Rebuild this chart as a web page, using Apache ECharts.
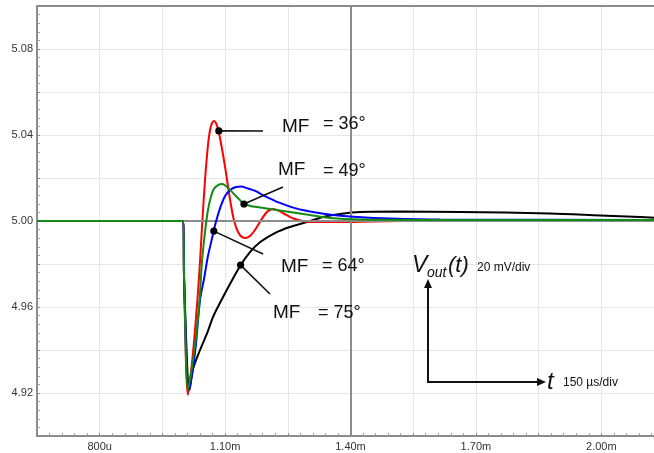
<!DOCTYPE html>
<html><head><meta charset="utf-8">
<script src="https://cdn.jsdelivr.net/npm/echarts@6/dist/echarts.min.js"></script>
<style>html,body{margin:0;padding:0;background:#fff}#c{width:654px;height:453px}</style>
</head><body><div id="c"></div>
<script>
// time in microseconds, voltage in volts
const commonT = [650, 1000, 1002];
const commonV = [5.000, 5.000, 4.972];

const redT = [1011,1021,1030,1038,1045,1052,1059,1064,1069,1073,1078,1083,1090,1100,1112,1121,1131,1140,1150,1162,1176,1191,1203,1215,1229,1246,1267,1303,1375,1518,2150];
const redV = [4.9191,4.9344,4.9540,4.9749,4.9981,5.0191,5.0353,5.0423,5.0456,5.0465,5.0456,5.0428,5.0363,5.0251,5.0098,5.0005,4.9949,4.9926,4.9921,4.9935,4.9972,5.0019,5.0047,5.0056,5.0047,5.0028,5.0009,4.9995,4.9995,5.0000,5.0002];

const greenT = [1011,1018,1028,1038,1045,1052,1059,1066,1073,1083,1093,1102,1114,1128,1143,1160,1184,1207,1255,1303,1351,1423,1638,2150];
const greenV = [4.9214,4.9284,4.9423,4.9609,4.9819,4.9949,5.0051,5.0112,5.0149,5.0167,5.0172,5.0163,5.0140,5.0112,5.0084,5.0070,5.0063,5.0056,5.0042,5.0028,5.0014,5.0007,5.0005,5.0005];

const blueT = [1013,1021,1030,1040,1050,1059,1069,1078,1088,1100,1112,1126,1138,1152,1172,1195,1231,1267,1310,1358,1416,1494,1614,2150];
const blueV = [4.9214,4.9284,4.9423,4.9633,4.9735,4.9837,4.9921,4.9995,5.0060,5.0116,5.0144,5.0158,5.0160,5.0153,5.0140,5.0116,5.0084,5.0060,5.0042,5.0028,5.0019,5.0012,5.0007,5.0005];

const blackT = [1015,1023,1040,1057,1071,1088,1112,1136,1160,1184,1219,1255,1296,1334,1375,1423,1518,1662,1877,1997,2093,2150];
const blackV = [4.9214,4.9310,4.9400,4.9478,4.9553,4.9620,4.9708,4.9791,4.9856,4.9902,4.9944,4.9972,4.9995,5.0019,5.0033,5.0042,5.0044,5.0042,5.0035,5.0026,5.0019,5.0013];

const mfAngles = ['36°', '49°', '64°', '75°'];
const mfDotT = [1085, 1145, 1073, 1137];
const mfDotV = [5.0419, 5.0079, 4.9953, 4.9795];

const xLabelTicks = [800, 1100, 1400, 1700, 2000];
const yLabelTicks = [4.92, 4.96, 5.00, 5.04, 5.08];

function pairs(t, v) {
  const a = [];
  for (let i = 0; i < commonT.length; i++) a.push([commonT[i], commonV[i]]);
  for (let i = 0; i < t.length; i++) a.push([t[i], v[i]]);
  return a;
}
function fmtX(v) {
  if (!xLabelTicks.some(t => Math.abs(t - v) < 1e-6)) return '';
  return v < 1000 ? v + 'u' : (v / 1000).toFixed(2) + 'm';
}
function fmtY(v) {
  if (!yLabelTicks.some(t => Math.abs(t - v) < 1e-6)) return '';
  return v.toFixed(2);
}

const FONT = '"Liberation Sans", Arial, sans-serif';
const gray = '#8c8c8c';
const chart = echarts.init(document.getElementById('c'), null, {renderer: 'canvas'});

function lineSeries(name, color, t, v, z) {
  return {
    name, type: 'line', data: pairs(t, v), showSymbol: false, symbol: 'none',
    smooth: 0.3, z: z, lineStyle: {color, width: 2}, animation: false
  };
}

chart.setOption({
  animation: false,
  backgroundColor: '#fff',
  grid: {left: 37, width: 627, top: 6, bottom: 17, containLabel: false, outerBoundsMode: 'none'},
  xAxis: [{
    type: 'value', min: 650, max: 2150, interval: 150,
    axisLine: {show: true, onZero: false, lineStyle: {color: gray, width: 2}},
    axisTick: {show: true, inside: true, length: 3, lineStyle: {color: gray}},
    minorTick: {show: true, splitNumber: 5, length: 3, lineStyle: {color: '#a0a0a0'}},
    splitLine: {show: true, lineStyle: {color: '#e6e6e6', width: 1}},
    axisLabel: {formatter: fmtX, color: '#333', fontSize: 11, fontFamily: FONT, margin: 5}
  }, {
    type: 'value', position: 'top', min: 650, max: 2150,
    axisLine: {show: true, onZero: false, lineStyle: {color: gray, width: 2}},
    axisTick: {show: false}, axisLabel: {show: false}, splitLine: {show: false}
  }],
  yAxis: {
    type: 'value', min: 4.90, max: 5.10, interval: 0.02,
    axisLine: {show: true, onZero: false, lineStyle: {color: gray, width: 2}},
    axisTick: {show: true, inside: true, length: 3, lineStyle: {color: gray}},
    minorTick: {show: true, splitNumber: 5, length: 3, lineStyle: {color: '#a0a0a0'}},
    splitLine: {show: true, lineStyle: {color: '#e6e6e6', width: 1}},
    axisLabel: {formatter: fmtY, color: '#333', fontSize: 11, fontFamily: FONT, margin: 4}
  },
  series: [
    {
      type: 'line', data: [], z: 1, silent: true,
      markLine: {
        silent: true, symbol: 'none', animation: false,
        label: {show: false},
        lineStyle: {color: gray, width: 2, type: 'solid'},
        data: [{xAxis: 1400}, {yAxis: 5.0}]
      }
    },
    lineSeries('MF=75', '#000000', blackT, blackV, 3),
    lineSeries('MF=36', '#ff0000', redT, redV, 4),
    lineSeries('MF=64', '#0000ff', blueT, blueV, 5),
    lineSeries('MF=49', '#138a13', greenT, greenV, 6)
  ]
});

// annotations
const mfTextX = [282, 278, 281, 273];
const mfTextY = [127, 170, 267, 313];
const eqTextX = [323, 323, 322, 318];
const eqTextY = [124, 171, 266, 313];
const leaderEnd = [[263, 131], [283, 187], [263, 254], [270, 294]];
const g = [];
for (let i = 0; i < mfAngles.length; i++) {
  const p = chart.convertToPixel({xAxisIndex: 0, yAxisIndex: 0}, [mfDotT[i], mfDotV[i]]);
  g.push({type: 'line', z: 100, shape: {x1: p[0], y1: p[1], x2: leaderEnd[i][0], y2: leaderEnd[i][1]},
          style: {stroke: '#111', lineWidth: 1.6}});
  g.push({type: 'circle', z: 101, shape: {cx: p[0], cy: p[1], r: 3.6}, style: {fill: '#000'}});
  g.push({type: 'text', z: 102, x: mfTextX[i], y: mfTextY[i],
          style: {text: 'MF', font: '19px ' + FONT, fill: '#111', verticalAlign: 'middle', align: 'left'}});
  g.push({type: 'text', z: 102, x: eqTextX[i], y: eqTextY[i],
          style: {text: '= ' + mfAngles[i], font: '18px ' + FONT, fill: '#111', verticalAlign: 'middle', align: 'left'}});
}
// axis legend arrows
g.push({type: 'polyline', z: 100, shape: {points: [[428, 286], [428, 382], [538, 382]]},
        style: {stroke: '#111', lineWidth: 2, fill: null}});
g.push({type: 'polygon', z: 100, shape: {points: [[428, 279], [424, 288], [432, 288]]}, style: {fill: '#111'}});
g.push({type: 'polygon', z: 100, shape: {points: [[546, 382], [537, 378], [537, 386]]}, style: {fill: '#111'}});
g.push({type: 'text', z: 102, x: 412, y: 266,
        style: {text: 'V', font: 'italic 23px ' + FONT, fill: '#111', verticalAlign: 'middle'}});
g.push({type: 'text', z: 102, x: 427, y: 273,
        style: {text: 'out', font: 'italic 14px ' + FONT, fill: '#111', verticalAlign: 'middle'}});
g.push({type: 'text', z: 102, x: 448, y: 266,
        style: {text: '(t)', font: 'italic 22px ' + FONT, fill: '#111', verticalAlign: 'middle'}});
g.push({type: 'text', z: 102, x: 477, y: 268,
        style: {text: '20 mV/div', font: '12px ' + FONT, fill: '#111', verticalAlign: 'middle'}});
g.push({type: 'text', z: 102, x: 547, y: 382,
        style: {text: 't', font: 'italic 24px ' + FONT, fill: '#111', verticalAlign: 'middle'}});
g.push({type: 'text', z: 102, x: 563, y: 383,
        style: {text: '150 µs/div', font: '12px ' + FONT, fill: '#111', verticalAlign: 'middle'}});
chart.setOption({graphic: g});
</script>
</body></html>
